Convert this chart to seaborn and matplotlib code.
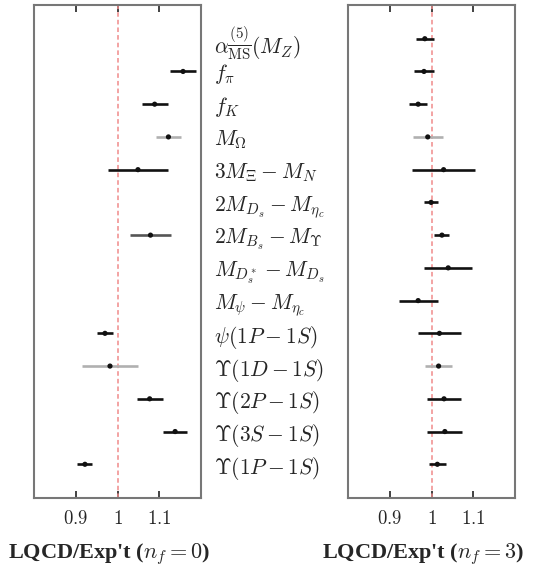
import numpy as np
import pandas as pd
import seaborn as sns
import matplotlib.pyplot as plt

sns.set_style("white")
plt.rcParams['mathtext.fontset'] = 'cm'
plt.rcParams['font.family'] = ['Liberation Serif', 'DejaVu Serif']

labels = [r'$\alpha^{(5)}_{\overline{\rm MS}}(M_Z)$', r'$f_\pi$', r'$f_K$', r'$M_\Omega$',
          r'$3M_\Xi - M_N$', r'$2M_{D_s} - M_{\eta_c}$', r'$2M_{B_s} - M_\Upsilon$',
          r'$M_{D_s^*} - M_{D_s}$', r'$M_\psi - M_{\eta_c}$', r'$\psi(1P - 1S)$',
          r'$\Upsilon(1D - 1S)$', r'$\Upsilon(2P - 1S)$', r'$\Upsilon(3S - 1S)$',
          r'$\Upsilon(1P - 1S)$']

# quenched (nf = 0)
q_val = [np.nan, 1.157, 1.089, 1.122, 1.049, np.nan, 1.079, np.nan, np.nan,
         0.970, 0.982, 1.077, 1.138, 0.922]
q_err = [np.nan, 0.032, 0.031, 0.030, 0.072, np.nan, 0.050, np.nan, np.nan,
         0.019, 0.067, 0.031, 0.029, 0.018]
q_shade = ['k', 'k', 'k', 'grey', 'k', 'k', 'dim', 'k', 'k', 'k', 'grey', 'k', 'k', 'k']

# unquenched (nf = 3)
u_val = [0.984, 0.982, 0.968, 0.991, 1.029, 0.999, 1.025, 1.040, 0.968,
         1.019, 1.017, 1.030, 1.032, 1.014]
u_err = [0.022, 0.025, 0.021, 0.036, 0.075, 0.016, 0.018, 0.058, 0.047,
         0.052, 0.033, 0.040, 0.042, 0.021]
u_shade = ['k', 'k', 'k', 'grey', 'k', 'k', 'k', 'k', 'k', 'k', 'grey', 'k', 'k', 'k']

shade_col = {'k': '#111111', 'grey': '#b0b0b0', 'dim': '#555555'}

fig = plt.figure(figsize=(5.37, 5.71), dpi=100)
ax0 = fig.add_axes([34/537, 73/571, 167/537, 493/571])
ax1 = fig.add_axes([348/537, 73/571, 167/537, 493/571])

def panel(ax, vals, errs, shades, nf):
    df = pd.DataFrame({'row': np.arange(len(labels)), 'val': vals, 'err': errs, 'shade': shades})
    df = df.dropna()
    ax.axvline(1.0, color='#f08a8a', lw=1.1, ls=(0, (3, 2)), zorder=1)
    for _, r in df.iterrows():
        ax.errorbar(r.val, r.row, xerr=r.err, fmt='none', ecolor=shade_col[r.shade],
                    elinewidth=1.9, capsize=0, zorder=2)
    sns.scatterplot(data=df, x='val', y='row', color='#111111', s=14, edgecolor='none',
                    ax=ax, zorder=3, legend=False)
    ax.set_xlim(0.8, 1.2)
    ax.set_ylim(len(labels) - 1 + 1.03, -1.03)
    ax.set_xticks([0.9, 1.0, 1.1])
    ax.set_xticklabels(['$0.9$', '$1$', '$1.1$'], fontsize=13.5)
    ax.tick_params(axis='x', direction='in', top=True, bottom=True, length=5, width=1.2,
                   color='#222222', pad=9)
    ax.tick_params(axis='y', left=False, right=False)
    for s in ax.spines.values():
        s.set_color('#777777')
        s.set_linewidth(1.5)
    ax.set_xlabel("LQCD/Exp't ($n_f = %d$)" % nf, fontsize=16, fontweight='bold')
    ax.xaxis.set_label_coords(0.45, -0.088)
    ax.set_ylabel('')

panel(ax0, q_val, q_err, q_shade, 0)
panel(ax1, u_val, u_err, u_shade, 3)

ax0.set_yticks([])
ax1.set_yticks(np.arange(len(labels)))
ax1.set_yticklabels(labels, fontsize=15.5, ha='left')
ax1.tick_params(axis='y', pad=93)

fig.savefig('out.png', dpi=100)
